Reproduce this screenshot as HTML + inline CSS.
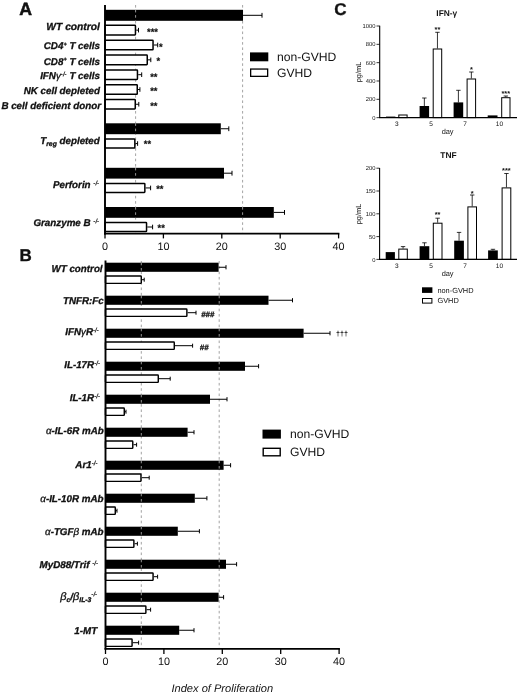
<!DOCTYPE html>
<html lang="en"><head><meta charset="utf-8"><title>Figure</title><style>
html,body{margin:0;padding:0;background:#fff}
body{width:520px;height:695px;overflow:hidden}
svg{display:block}
text{font-family:"Liberation Sans",Arial,Helvetica,sans-serif;fill:#111;text-rendering:geometricPrecision}
.pl{font-weight:bold;font-size:17px;stroke:#111;stroke-width:0.35px}
.lb{font-weight:bold;font-style:italic;font-size:9.8px;stroke:#111;stroke-width:0.3px}
.lb .sp{font-size:6.2px;stroke-width:0.1px}
.lb .sp2{font-size:5.6px}
.lb .sb{font-size:6.8px}
.lb .be{font-weight:normal;font-size:11px}
.lb .gk{font-weight:normal}
.tk{font-size:10.8px}
.st{font-weight:bold;font-size:9.4px;stroke:#111;stroke-width:0.2px}
.hs{font-weight:bold;font-style:italic;font-size:7.8px;stroke:#111;stroke-width:0.3px}
.dg{font-weight:bold;font-size:7.2px}
.lg{font-size:12.15px}
.xl{font-style:italic;font-size:11.1px}
.ct{font-weight:bold;font-size:8.4px}
.ck{font-size:5.8px}
.cd{font-size:7.4px}
.cx{font-size:6.5px}
.cs{font-weight:bold;font-size:7.4px}
.cl{font-size:7.4px}
</style></head><body>
<svg width="520" height="695" viewBox="0 0 520 695">
<rect width="520" height="695" fill="#fff"/>
<g id="panelA">
<text class="pl" x="19.3" y="14.6" style="font-size:17.7px;stroke-width:0.5px">A</text>
<path d="M135.6 5V233 M242.6 5V233" stroke="#999" stroke-width="0.9" stroke-dasharray="2.6 2.7" fill="none"/>
<rect x="105" y="9.8" width="138.00" height="11.00" fill="#000"/>
<path d="M243 15.30H262 M262 12.90V17.70" stroke="#000" stroke-width="1" fill="none"/>
<rect x="105" y="123.3" width="115.80" height="10.90" fill="#000"/>
<path d="M220.8 128.75H228.8 M228.8 126.35V131.15" stroke="#000" stroke-width="1" fill="none"/>
<rect x="105" y="167.8" width="119.00" height="10.80" fill="#000"/>
<path d="M224 173.20H232 M232 170.80V175.60" stroke="#000" stroke-width="1" fill="none"/>
<rect x="105" y="207" width="168.80" height="10.80" fill="#000"/>
<path d="M273.8 212.40H284.5 M284.5 210.00V214.80" stroke="#000" stroke-width="1" fill="none"/>
<rect x="105" y="25.35" width="30.45" height="9.60" fill="#fff" stroke="#000" stroke-width="1.5" rx="0.6"/>
<path d="M136.2 30.15H138.5 M138.5 27.85V32.45" stroke="#000" stroke-width="1" fill="none"/>
<rect x="105" y="40.15" width="48.05" height="9.70" fill="#fff" stroke="#000" stroke-width="1.5" rx="0.6"/>
<path d="M153.8 45.00H157.7 M157.7 42.70V47.30" stroke="#000" stroke-width="1" fill="none"/>
<rect x="105" y="55.05" width="42.25" height="9.60" fill="#fff" stroke="#000" stroke-width="1.5" rx="0.6"/>
<path d="M148 59.85H150.8 M150.8 57.55V62.15" stroke="#000" stroke-width="1" fill="none"/>
<rect x="105" y="69.95" width="32.45" height="9.50" fill="#fff" stroke="#000" stroke-width="1.5" rx="0.6"/>
<path d="M138.2 74.70H141.7 M141.7 72.40V77.00" stroke="#000" stroke-width="1" fill="none"/>
<rect x="105" y="84.75" width="32.25" height="9.50" fill="#fff" stroke="#000" stroke-width="1.5" rx="0.6"/>
<path d="M138 89.50H139.9 M139.9 87.20V91.80" stroke="#000" stroke-width="1" fill="none"/>
<rect x="105" y="99.55" width="30.25" height="9.40" fill="#fff" stroke="#000" stroke-width="1.5" rx="0.6"/>
<path d="M136 104.25H138.8 M138.8 101.95V106.55" stroke="#000" stroke-width="1" fill="none"/>
<rect x="105" y="139.05" width="29.85" height="9.00" fill="#fff" stroke="#000" stroke-width="1.5" rx="0.6"/>
<path d="M135.6 143.55H137.6 M137.6 141.25V145.85" stroke="#000" stroke-width="1" fill="none"/>
<rect x="105" y="183.45" width="39.85" height="9.00" fill="#fff" stroke="#000" stroke-width="1.5" rx="0.6"/>
<path d="M145.6 187.95H150.6 M150.6 185.65V190.25" stroke="#000" stroke-width="1" fill="none"/>
<rect x="105" y="222.45" width="41.55" height="9.10" fill="#fff" stroke="#000" stroke-width="1.5" rx="0.6"/>
<path d="M147.3 227.00H152.6 M152.6 224.70V229.30" stroke="#000" stroke-width="1" fill="none"/>
<path d="M135.6 9.8V20.8 M135.6 123.3V134.2 M135.6 167.8V178.6 M135.6 207V217.8 M242.6 207V217.8" stroke="#bbb" stroke-width="0.8" stroke-dasharray="2.6 2.7" fill="none"/>
<path d="M105 5V234.4" stroke="#000" stroke-width="1.9" fill="none"/>
<path d="M104.05 233.6H339.4" stroke="#000" stroke-width="1.7" fill="none"/>
<path d="M105.00 233.6V238.4" stroke="#000" stroke-width="1.3"/>
<text class="tk" x="105.00" y="249.5" text-anchor="middle">0</text>
<path d="M163.40 233.6V238.4" stroke="#000" stroke-width="1.3"/>
<text class="tk" x="163.40" y="249.5" text-anchor="middle">10</text>
<path d="M221.80 233.6V238.4" stroke="#000" stroke-width="1.3"/>
<text class="tk" x="221.80" y="249.5" text-anchor="middle">20</text>
<path d="M280.20 233.6V238.4" stroke="#000" stroke-width="1.3"/>
<text class="tk" x="280.20" y="249.5" text-anchor="middle">30</text>
<path d="M338.60 233.6V238.4" stroke="#000" stroke-width="1.3"/>
<text class="tk" x="338.60" y="249.5" text-anchor="middle">40</text>
<text class="lb" x="99.9" y="29.9" text-anchor="end" style="font-size:10.25px">WT control</text>
<text class="lb" x="99.9" y="49.1" text-anchor="end">CD4<tspan class="sp2" dy="-3.2">+</tspan><tspan dy="3.2">&#8203;</tspan> T cells</text>
<text class="lb" x="99.9" y="64.6" text-anchor="end">CD8<tspan class="sp2" dy="-3.2">+</tspan><tspan dy="3.2">&#8203;</tspan> T cells</text>
<text class="lb" x="99.9" y="78.9" text-anchor="end">IFN<tspan class="gk">&#947;</tspan><tspan class="sp" dy="-3.2">-/-</tspan><tspan dy="3.2">&#8203;</tspan> T cells</text>
<text class="lb" x="99.9" y="94.2" text-anchor="end">NK cell depleted</text>
<text class="lb" x="101" y="109.3" text-anchor="end">B cell deficient donor</text>
<text class="lb" x="99.8" y="143.5" text-anchor="end">T<tspan class="sb" dy="2.2">reg</tspan><tspan dy="-2.2"> depleted</tspan></text>
<text class="lb" x="99.2" y="188.3" text-anchor="end">Perforin <tspan class="sp" dy="-3.2">-/-</tspan><tspan dy="3.2">&#8203;</tspan></text>
<text class="lb" x="99.2" y="226.3" text-anchor="end">Granzyme B <tspan class="sp" dy="-3.2">-/-</tspan><tspan dy="3.2">&#8203;</tspan></text>
<text class="st" x="152.5" y="35.2" text-anchor="middle">***</text>
<text class="st" x="160.8" y="49.6" text-anchor="middle">*</text>
<text class="st" x="158.4" y="63.6" text-anchor="middle">*</text>
<text class="st" x="153.8" y="79.6" text-anchor="middle">**</text>
<text class="st" x="153.8" y="93.6" text-anchor="middle">**</text>
<text class="st" x="153.8" y="108.6" text-anchor="middle">**</text>
<text class="st" x="147.5" y="147.3" text-anchor="middle">**</text>
<text class="st" x="159.8" y="192.2" text-anchor="middle">**</text>
<text class="st" x="161.2" y="231" text-anchor="middle">**</text>
<rect x="250" y="52.4" width="18.3" height="8.9" fill="#000"/>
<rect x="250.65" y="69.05" width="17" height="7.3" fill="#fff" stroke="#000" stroke-width="1.3"/>
<text class="lg" x="277" y="61.4">non-GVHD</text>
<text class="lg" x="277" y="76.6">GVHD</text>
</g>
<g id="panelB">
<text class="pl" x="19.6" y="260.8">B</text>
<path d="M141.3 261V648 M219.2 261V648" stroke="#999" stroke-width="0.9" stroke-dasharray="2.6 2.7" fill="none"/>
<rect x="105.5" y="262.7" width="113.10" height="9.10" fill="#000"/>
<path d="M218.6 267.25H226 M226 265.15V269.35" stroke="#000" stroke-width="1" fill="none"/>
<rect x="105.5" y="276.03" width="35.78" height="7.35" fill="#fff" stroke="#000" stroke-width="1.45" rx="0.6"/>
<path d="M142 279.70H144.2 M144.2 277.70V281.70" stroke="#000" stroke-width="1" fill="none"/>
<rect x="105.5" y="295.7" width="163.00" height="9.10" fill="#000"/>
<path d="M268.5 300.25H292.5 M292.5 298.15V302.35" stroke="#000" stroke-width="1" fill="none"/>
<rect x="105.5" y="309.03" width="81.38" height="7.35" fill="#fff" stroke="#000" stroke-width="1.45" rx="0.6"/>
<path d="M187.6 312.70H196 M196 310.70V314.70" stroke="#000" stroke-width="1" fill="none"/>
<rect x="105.5" y="328.7" width="198.10" height="9.10" fill="#000"/>
<path d="M303.6 333.25H330 M330 331.15V335.35" stroke="#000" stroke-width="1" fill="none"/>
<rect x="105.5" y="342.03" width="68.78" height="7.35" fill="#fff" stroke="#000" stroke-width="1.45" rx="0.6"/>
<path d="M175 345.70H192.6 M192.6 343.70V347.70" stroke="#000" stroke-width="1" fill="none"/>
<rect x="105.5" y="361.7" width="139.50" height="9.10" fill="#000"/>
<path d="M245 366.25H258.6 M258.6 364.15V368.35" stroke="#000" stroke-width="1" fill="none"/>
<rect x="105.5" y="375.03" width="52.78" height="7.35" fill="#fff" stroke="#000" stroke-width="1.45" rx="0.6"/>
<path d="M159 378.70H170.2 M170.2 376.70V380.70" stroke="#000" stroke-width="1" fill="none"/>
<rect x="105.5" y="394.7" width="104.50" height="9.10" fill="#000"/>
<path d="M210 399.25H227 M227 397.15V401.35" stroke="#000" stroke-width="1" fill="none"/>
<rect x="105.5" y="408.03" width="18.78" height="7.35" fill="#fff" stroke="#000" stroke-width="1.45" rx="0.6"/>
<path d="M125 411.70H126 M126 409.70V413.70" stroke="#000" stroke-width="1" fill="none"/>
<rect x="105.5" y="427.7" width="82.10" height="9.10" fill="#000"/>
<path d="M187.6 432.25H194 M194 430.15V434.35" stroke="#000" stroke-width="1" fill="none"/>
<rect x="105.5" y="441.03" width="27.28" height="7.35" fill="#fff" stroke="#000" stroke-width="1.45" rx="0.6"/>
<path d="M133.5 444.70H136.6 M136.6 442.70V446.70" stroke="#000" stroke-width="1" fill="none"/>
<rect x="105.5" y="460.7" width="118.10" height="9.10" fill="#000"/>
<path d="M223.6 465.25H230.6 M230.6 463.15V467.35" stroke="#000" stroke-width="1" fill="none"/>
<rect x="105.5" y="474.03" width="35.47" height="7.35" fill="#fff" stroke="#000" stroke-width="1.45" rx="0.6"/>
<path d="M141.7 477.70H149.2 M149.2 475.70V479.70" stroke="#000" stroke-width="1" fill="none"/>
<rect x="105.5" y="493.7" width="89.30" height="9.10" fill="#000"/>
<path d="M194.8 498.25H206.9 M206.9 496.15V500.35" stroke="#000" stroke-width="1" fill="none"/>
<rect x="105.5" y="507.03" width="9.78" height="7.35" fill="#fff" stroke="#000" stroke-width="1.45" rx="0.6"/>
<path d="M116 510.70H117 M117 508.70V512.70" stroke="#000" stroke-width="1" fill="none"/>
<rect x="105.5" y="526.7" width="72.30" height="9.10" fill="#000"/>
<path d="M177.8 531.25H199.4 M199.4 529.15V533.35" stroke="#000" stroke-width="1" fill="none"/>
<rect x="105.5" y="540.02" width="28.38" height="7.35" fill="#fff" stroke="#000" stroke-width="1.45" rx="0.6"/>
<path d="M134.6 543.70H137.4 M137.4 541.70V545.70" stroke="#000" stroke-width="1" fill="none"/>
<rect x="105.5" y="559.7" width="120.50" height="9.10" fill="#000"/>
<path d="M226 564.25H236.6 M236.6 562.15V566.35" stroke="#000" stroke-width="1" fill="none"/>
<rect x="105.5" y="573.02" width="47.58" height="7.35" fill="#fff" stroke="#000" stroke-width="1.45" rx="0.6"/>
<path d="M153.8 576.70H157.6 M157.6 574.70V578.70" stroke="#000" stroke-width="1" fill="none"/>
<rect x="105.5" y="592.7" width="113.10" height="9.10" fill="#000"/>
<path d="M218.6 597.25H223.6 M223.6 595.15V599.35" stroke="#000" stroke-width="1" fill="none"/>
<rect x="105.5" y="606.02" width="40.38" height="7.35" fill="#fff" stroke="#000" stroke-width="1.45" rx="0.6"/>
<path d="M146.6 609.70H150.6 M150.6 607.70V611.70" stroke="#000" stroke-width="1" fill="none"/>
<rect x="105.5" y="625.7" width="73.70" height="9.10" fill="#000"/>
<path d="M179.2 630.25H194 M194 628.15V632.35" stroke="#000" stroke-width="1" fill="none"/>
<rect x="105.5" y="639.02" width="26.58" height="7.35" fill="#fff" stroke="#000" stroke-width="1.45" rx="0.6"/>
<path d="M132.8 642.70H138.6 M138.6 640.70V644.70" stroke="#000" stroke-width="1" fill="none"/>
<path d="M141.3 262.7V271.8 M141.3 295.7V304.8 M219.2 295.7V304.8 M141.3 328.7V337.8 M219.2 328.7V337.8 M141.3 361.7V370.8 M219.2 361.7V370.8 M141.3 394.7V403.8 M141.3 427.7V436.8 M141.3 460.7V469.8 M219.2 460.7V469.8 M141.3 493.7V502.8 M141.3 526.7V535.8 M141.3 559.7V568.8 M219.2 559.7V568.8 M141.3 592.7V601.8 M141.3 625.7V634.8" stroke="#bbb" stroke-width="0.8" stroke-dasharray="2.6 2.7" fill="none"/>
<path d="M105.5 260.5V649.6" stroke="#000" stroke-width="1.9" fill="none"/>
<path d="M104.55 648.8H339.9" stroke="#000" stroke-width="1.7" fill="none"/>
<path d="M105.50 648.8V654" stroke="#000" stroke-width="1.3"/>
<text class="tk" x="105.50" y="664.5" text-anchor="middle">0</text>
<path d="M163.90 648.8V654" stroke="#000" stroke-width="1.3"/>
<text class="tk" x="163.90" y="664.5" text-anchor="middle">10</text>
<path d="M222.30 648.8V654" stroke="#000" stroke-width="1.3"/>
<text class="tk" x="222.30" y="664.5" text-anchor="middle">20</text>
<path d="M280.70 648.8V654" stroke="#000" stroke-width="1.3"/>
<text class="tk" x="280.70" y="664.5" text-anchor="middle">30</text>
<path d="M339.10 648.8V654" stroke="#000" stroke-width="1.3"/>
<text class="tk" x="339.10" y="664.5" text-anchor="middle">40</text>
<text class="xl" x="222.3" y="691.6" text-anchor="middle">Index of Proliferation</text>
<text class="lb" x="102.6" y="271.7" text-anchor="end">WT control</text>
<text class="lb" x="103.8" y="304.1" text-anchor="end">TNFR:Fc</text>
<text class="lb" x="98.8" y="334.7" text-anchor="end">IFN<tspan class="gk">&#947;</tspan>R<tspan class="sp" dy="-3.2">-/-</tspan><tspan dy="3.2">&#8203;</tspan></text>
<text class="lb" x="100" y="368.4" text-anchor="end">IL-17R<tspan class="sp" dy="-3.2">-/-</tspan><tspan dy="3.2">&#8203;</tspan></text>
<text class="lb" x="100" y="401.2" text-anchor="end">IL-1R<tspan class="sp" dy="-3.2">-/-</tspan><tspan dy="3.2">&#8203;</tspan></text>
<text class="lb" x="103.8" y="433.6" text-anchor="end"><tspan class="gk">&#945;</tspan>-IL-6R mAb</text>
<text class="lb" x="97.5" y="467.7" text-anchor="end">Ar1<tspan class="sp" dy="-3.2">-/-</tspan><tspan dy="3.2">&#8203;</tspan></text>
<text class="lb" x="103.6" y="501.8" text-anchor="end"><tspan class="gk">&#945;</tspan>-IL-10R mAb</text>
<text class="lb" x="103.6" y="535.4" text-anchor="end"><tspan class="gk">&#945;</tspan>-TGF<tspan class="gk">&#946;</tspan> mAb</text>
<text class="lb" x="98" y="567.8" text-anchor="end">MyD88/Trif <tspan class="sp" dy="-3.2">-/-</tspan><tspan dy="3.2">&#8203;</tspan></text>
<text class="lb" x="97.2" y="599.6" text-anchor="end"><tspan class="be">&#946;</tspan><tspan class="sb" dy="2.2">c</tspan><tspan dy="-2.2">/</tspan><tspan class="be">&#946;</tspan><tspan class="sb" dy="2.2">IL-3</tspan><tspan dy="-2.2">&#8203;</tspan><tspan class="sp" dy="-3.2">-/-</tspan><tspan dy="3.2">&#8203;</tspan></text>
<text class="lb" x="97.2" y="633.6" text-anchor="end">1-MT</text>
<text class="hs" x="207.8" y="316.6" text-anchor="middle">###</text>
<text class="hs" x="204.2" y="349.6" text-anchor="middle">##</text>
<text class="dg" x="342" y="336.4" text-anchor="middle">&#8224;&#8224;&#8224;</text>
<rect x="262.5" y="429.6" width="18.4" height="9" fill="#000"/>
<rect x="263.2" y="448.3" width="17" height="7.5" fill="#fff" stroke="#000" stroke-width="1.4"/>
<text class="lg" x="290" y="438.4">non-GVHD</text>
<text class="lg" x="290" y="456.2">GVHD</text>
</g>
<g id="panelC">
<text class="pl" x="334.2" y="14.8">C</text>
<text class="ct" x="446.8" y="15.8" text-anchor="middle">IFN-&#947;</text>
<rect x="386.00" y="116.60" width="9.40" height="1.00" fill="#000"/>
<rect x="398.80" y="115.00" width="8.30" height="2.60" fill="#fff" stroke="#000" stroke-width="1"/>
<rect x="419.60" y="106.00" width="9.50" height="11.60" fill="#000"/>
<path d="M424.35 106V98 M422.15 98H426.55" stroke="#000" stroke-width="0.8" fill="none"/>
<rect x="433.20" y="49.00" width="8.50" height="68.60" fill="#fff" stroke="#000" stroke-width="1"/>
<path d="M437.45 48.5V32.3 M435.25 32.3H439.65" stroke="#000" stroke-width="0.8" fill="none"/>
<rect x="453.60" y="102.40" width="9.60" height="15.20" fill="#000"/>
<path d="M458.40 102.4V90.3 M456.20 90.3H460.60" stroke="#000" stroke-width="0.8" fill="none"/>
<rect x="467.10" y="79.00" width="8.50" height="38.60" fill="#fff" stroke="#000" stroke-width="1"/>
<path d="M471.35 78.5V72 M469.15 72H473.55" stroke="#000" stroke-width="0.8" fill="none"/>
<rect x="487.70" y="115.40" width="9.80" height="2.20" fill="#000"/>
<rect x="501.70" y="97.70" width="8.30" height="19.90" fill="#fff" stroke="#000" stroke-width="1"/>
<path d="M505.85 97.2V96 M503.65 96H508.05" stroke="#000" stroke-width="0.8" fill="none"/>
<path d="M379.7 25.7V118.1" stroke="#000" stroke-width="1.1" fill="none"/>
<path d="M379.2 117.6H517" stroke="#000" stroke-width="1.1" fill="none"/>
<path d="M376.5 26.00H379.7" stroke="#000" stroke-width="0.8"/>
<text class="ck" x="375.5" y="28.10" text-anchor="end">1000</text>
<path d="M376.5 44.33H379.7" stroke="#000" stroke-width="0.8"/>
<text class="ck" x="375.5" y="46.43" text-anchor="end">800</text>
<path d="M376.5 62.66H379.7" stroke="#000" stroke-width="0.8"/>
<text class="ck" x="375.5" y="64.76" text-anchor="end">600</text>
<path d="M376.5 80.99H379.7" stroke="#000" stroke-width="0.8"/>
<text class="ck" x="375.5" y="83.09" text-anchor="end">400</text>
<path d="M376.5 99.32H379.7" stroke="#000" stroke-width="0.8"/>
<text class="ck" x="375.5" y="101.42" text-anchor="end">200</text>
<path d="M376.5 117.65H379.7" stroke="#000" stroke-width="0.8"/>
<text class="ck" x="375.5" y="119.75" text-anchor="end">0</text>
<text class="cx" x="396.8" y="126.3" text-anchor="middle">3</text>
<text class="cx" x="431" y="126.3" text-anchor="middle">5</text>
<text class="cx" x="465" y="126.3" text-anchor="middle">7</text>
<text class="cx" x="499.4" y="126.3" text-anchor="middle">10</text>
<text class="cd" x="447.6" y="134.2" text-anchor="middle">day</text>
<text class="cd" transform="translate(360.8 72) rotate(-90)" text-anchor="middle">pg/mL</text>
<text class="cs" x="437.5" y="31.8" text-anchor="middle">**</text>
<text class="cs" x="471.4" y="71.6" text-anchor="middle">*</text>
<text class="cs" x="505.8" y="95.6" text-anchor="middle">***</text>
<text class="ct" x="448.5" y="157.6" text-anchor="middle">TNF</text>
<rect x="385.70" y="252.10" width="9.20" height="7.30" fill="#000"/>
<rect x="398.80" y="249.10" width="8.50" height="10.30" fill="#fff" stroke="#000" stroke-width="1"/>
<path d="M403.05 248.6V246.6 M400.85 246.6H405.25" stroke="#000" stroke-width="0.8" fill="none"/>
<rect x="419.60" y="246.20" width="9.70" height="13.20" fill="#000"/>
<path d="M424.45 246.2V242.8 M422.25 242.8H426.65" stroke="#000" stroke-width="0.8" fill="none"/>
<rect x="433.30" y="223.20" width="8.70" height="36.20" fill="#fff" stroke="#000" stroke-width="1"/>
<path d="M437.65 222.7V218.2 M435.45 218.2H439.85" stroke="#000" stroke-width="0.8" fill="none"/>
<rect x="454.20" y="240.70" width="9.70" height="18.70" fill="#000"/>
<path d="M459.05 240.7V232.4 M456.85 232.4H461.25" stroke="#000" stroke-width="0.8" fill="none"/>
<rect x="467.90" y="206.90" width="8.60" height="52.50" fill="#fff" stroke="#000" stroke-width="1"/>
<path d="M472.20 206.4V195 M470.00 195H474.40" stroke="#000" stroke-width="0.8" fill="none"/>
<rect x="488.10" y="250.40" width="9.70" height="9.00" fill="#000"/>
<path d="M492.95 250.4V249.3 M490.75 249.3H495.15" stroke="#000" stroke-width="0.8" fill="none"/>
<rect x="502.10" y="187.90" width="8.70" height="71.50" fill="#fff" stroke="#000" stroke-width="1"/>
<path d="M506.45 187.4V173.5 M504.25 173.5H508.65" stroke="#000" stroke-width="0.8" fill="none"/>
<path d="M379.6 167.89999999999998V259.9" stroke="#000" stroke-width="1.1" fill="none"/>
<path d="M379.1 259.4H517" stroke="#000" stroke-width="1.1" fill="none"/>
<path d="M376.40000000000003 168.20H379.6" stroke="#000" stroke-width="0.8"/>
<text class="ck" x="375.40000000000003" y="170.30" text-anchor="end">200</text>
<path d="M376.40000000000003 191.00H379.6" stroke="#000" stroke-width="0.8"/>
<text class="ck" x="375.40000000000003" y="193.10" text-anchor="end">150</text>
<path d="M376.40000000000003 213.80H379.6" stroke="#000" stroke-width="0.8"/>
<text class="ck" x="375.40000000000003" y="215.90" text-anchor="end">100</text>
<path d="M376.40000000000003 236.60H379.6" stroke="#000" stroke-width="0.8"/>
<text class="ck" x="375.40000000000003" y="238.70" text-anchor="end">50</text>
<path d="M376.40000000000003 259.40H379.6" stroke="#000" stroke-width="0.8"/>
<text class="ck" x="375.40000000000003" y="261.50" text-anchor="end">0</text>
<text class="cx" x="396.8" y="268.1" text-anchor="middle">3</text>
<text class="cx" x="431" y="268.1" text-anchor="middle">5</text>
<text class="cx" x="465" y="268.1" text-anchor="middle">7</text>
<text class="cx" x="499.4" y="268.1" text-anchor="middle">10</text>
<text class="cd" x="447.6" y="276.0" text-anchor="middle">day</text>
<text class="cd" transform="translate(360.8 214) rotate(-90)" text-anchor="middle">pg/mL</text>
<text class="cs" x="437.6" y="217.4" text-anchor="middle">**</text>
<text class="cs" x="472.2" y="195.6" text-anchor="middle">*</text>
<text class="cs" x="506.4" y="173" text-anchor="middle">***</text>
<rect x="422" y="287.3" width="10.4" height="5.6" fill="#000"/>
<rect x="422.5" y="298.5" width="9.4" height="4.6" fill="#fff" stroke="#000" stroke-width="1"/>
<text class="cl" x="437.4" y="292.9">non-GVHD</text>
<text class="cl" x="437.4" y="303.4">GVHD</text>
</g>
</svg>
</body></html>
